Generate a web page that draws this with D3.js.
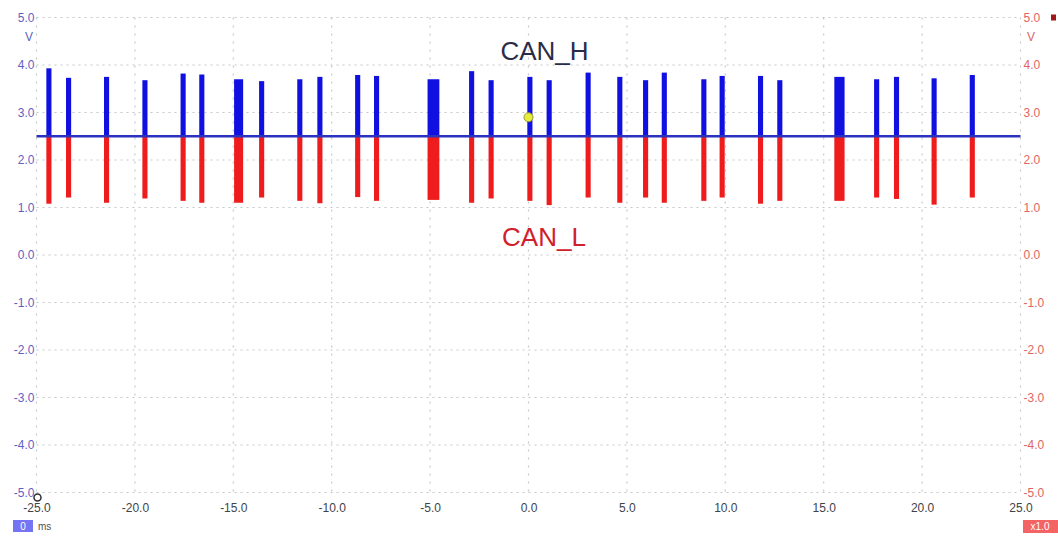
<!DOCTYPE html>
<html>
<head>
<meta charset="utf-8">
<script src="https://cdn.jsdelivr.net/npm/d3@7"></script>
<style>
  body { margin: 0; background: #fff; }
  text { font-family: "Liberation Sans", Arial, sans-serif; }
</style>
</head>
<body>
<div class="scope-figure"></div>
<script>
const w = 1058;
const h = 536;

// frame start (ms), frame length (ms), CAN_H level (V), CAN_L level (V)
const frameStart = [-24.50, -23.50, -21.57, -19.62, -17.68, -16.73, -14.96, -13.69, -11.75, -10.73,
                    -8.81, -7.85, -5.13, -3.02, -2.03, -0.06, 0.92, 2.90, 4.51, 5.82,
                    6.77, 8.78, 9.71, 11.66, 12.64, 15.54, 17.56, 18.57, 20.48, 22.42];
const frameLen   = [0.26, 0.26, 0.26, 0.26, 0.26, 0.26, 0.46, 0.26, 0.26, 0.26,
                    0.26, 0.26, 0.60, 0.26, 0.26, 0.26, 0.26, 0.26, 0.26, 0.26,
                    0.26, 0.26, 0.26, 0.26, 0.26, 0.52, 0.26, 0.26, 0.26, 0.26];
const canHigh    = [3.93, 3.73, 3.75, 3.68, 3.82, 3.80, 3.70, 3.66, 3.70, 3.75,
                    3.79, 3.77, 3.70, 3.87, 3.68, 3.75, 3.68, 3.84, 3.75, 3.68,
                    3.84, 3.70, 3.77, 3.77, 3.68, 3.75, 3.70, 3.75, 3.72, 3.79];
const canLow     = [1.08, 1.21, 1.10, 1.19, 1.14, 1.10, 1.10, 1.21, 1.14, 1.09,
                    1.22, 1.14, 1.16, 1.10, 1.19, 1.14, 1.05, 1.21, 1.10, 1.21,
                    1.10, 1.14, 1.21, 1.08, 1.14, 1.14, 1.21, 1.18, 1.06, 1.21];
const recessive = 2.5; // idle bus level

const timeTicks = [-25, -20, -15, -10, -5, 0, 5, 10, 15, 20, 25];
const voltTicks = [5, 4, 3, 2, 1, 0, -1, -2, -3, -4, -5];

let frames = frameStart.map((t, i) => ({
    t0: t,
    t1: t + frameLen[i],
    hi: canHigh[i],
    lo: canLow[i]
}));

let svg = d3.select("body").select(".scope-figure")
    .append("svg")
    .attr("width", w)
    .attr("height", h);

let x = d3.scaleLinear()
    .domain([-25, 25])
    .range([36.5, 1020.5]);

let y = d3.scaleLinear()
    .domain([-5, 5])
    .range([492.5, 17.5]);

let fmt = d => d3.format(".1f")(d).replace("−", "-");

// grid
svg.append("g")
    .selectAll("line")
    .data(voltTicks)
    .enter()
    .append("line")
    .attr("x1", x(-25))
    .attr("x2", x(25))
    .attr("y1", d => y(d))
    .attr("y2", d => y(d))
    .attr("stroke", "#c4c8cc")
    .attr("stroke-width", 1.2)
    .attr("stroke-dasharray", "2,4");

svg.append("g")
    .selectAll("line")
    .data(timeTicks)
    .enter()
    .append("line")
    .attr("x1", d => x(d))
    .attr("x2", d => x(d))
    .attr("y1", y(5))
    .attr("y2", y(-5))
    .attr("stroke", "#c4c8cc")
    .attr("stroke-width", 1.2)
    .attr("stroke-dasharray", "2,6");

// left axis (channel A, blue)
let left = svg.append("g")
    .attr("transform", "translate(" + (x(-25) - 1) + ",0)")
    .call(d3.axisLeft(y).tickValues(voltTicks).tickSize(0).tickPadding(1).tickFormat(fmt));
left.select(".domain").remove();
left.selectAll("text")
    .attr("fill", "#5f5fc4")
    .style("font-size", "12px");

svg.append("text")
    .attr("x", 29)
    .attr("y", y(5) + 23)
    .attr("text-anchor", "middle")
    .attr("fill", "#5f5fc4")
    .style("font-size", "12px")
    .text("V");

// right axis (channel B, red)
let right = svg.append("g")
    .attr("transform", "translate(" + (x(25) + 2) + ",0)")
    .call(d3.axisRight(y).tickValues(voltTicks).tickSize(0).tickPadding(1).tickFormat(fmt));
right.select(".domain").remove();
right.selectAll("text")
    .attr("fill", "#e06464")
    .style("font-size", "12px");

svg.append("text")
    .attr("x", 1031)
    .attr("y", y(5) + 23)
    .attr("text-anchor", "middle")
    .attr("fill", "#e06464")
    .style("font-size", "12px")
    .text("V");

svg.append("rect")
    .attr("x", 1051)
    .attr("y", y(5) - 3)
    .attr("width", 5)
    .attr("height", 6)
    .attr("fill", "#a01818");

// time axis
let bottom = svg.append("g")
    .attr("transform", "translate(0," + (y(-5) + 7) + ")")
    .call(d3.axisBottom(x).tickValues(timeTicks).tickSize(0).tickPadding(4).tickFormat(fmt));
bottom.select(".domain").remove();
bottom.selectAll("text")
    .attr("fill", "#404448")
    .style("font-size", "12px");

// CAN_L frames (dominant pulls down)
svg.append("g")
    .selectAll("rect")
    .data(frames)
    .enter()
    .append("rect")
    .attr("x", d => x(d.t0))
    .attr("width", d => x(d.t1) - x(d.t0))
    .attr("y", y(recessive))
    .attr("height", d => y(d.lo) - y(recessive))
    .attr("fill", "#ee1c1c");

// CAN_H frames
svg.append("g")
    .selectAll("rect")
    .data(frames)
    .enter()
    .append("rect")
    .attr("x", d => x(d.t0))
    .attr("width", d => x(d.t1) - x(d.t0))
    .attr("y", d => y(d.hi))
    .attr("height", d => y(recessive) - y(d.hi))
    .attr("fill", "#1010e0");

// idle level
svg.append("line")
    .attr("x1", x(-25))
    .attr("x2", x(25))
    .attr("y1", y(recessive))
    .attr("y2", y(recessive))
    .attr("stroke", "#2c32c0")
    .attr("stroke-width", 2.5);

// labels
svg.append("text")
    .attr("x", 544.5)
    .attr("y", 60)
    .attr("text-anchor", "middle")
    .attr("fill", "#2a2d48")
    .style("font-size", "26px")
    .text("CAN_H");

svg.append("text")
    .attr("x", 544)
    .attr("y", 246)
    .attr("text-anchor", "middle")
    .attr("fill", "#d0202c")
    .style("font-size", "26px")
    .text("CAN_L");

// trigger marker
svg.append("circle")
    .attr("cx", x(0))
    .attr("cy", y(2.9))
    .attr("r", 4.5)
    .attr("fill", "#e6ec3c")
    .attr("stroke", "#9a9a30")
    .attr("stroke-width", 1);

// ruler origin marker
svg.append("circle")
    .attr("cx", x(-25) + 1)
    .attr("cy", y(-5) + 5)
    .attr("r", 3.5)
    .attr("fill", "none")
    .attr("stroke", "#303030")
    .attr("stroke-width", 1.5);

// bottom badges
svg.append("rect")
    .attr("x", 13)
    .attr("y", 520)
    .attr("width", 20)
    .attr("height", 12)
    .attr("fill", "#7474f4");
svg.append("text")
    .attr("x", 23)
    .attr("y", 530)
    .attr("text-anchor", "middle")
    .attr("fill", "#fff")
    .style("font-size", "10px")
    .text("0");
svg.append("text")
    .attr("x", 38)
    .attr("y", 530)
    .attr("fill", "#505050")
    .style("font-size", "10px")
    .text("ms");

svg.append("rect")
    .attr("x", 1023)
    .attr("y", 520)
    .attr("width", 35)
    .attr("height", 13)
    .attr("fill", "#f46464");
svg.append("text")
    .attr("x", 1040)
    .attr("y", 530)
    .attr("text-anchor", "middle")
    .attr("fill", "#fff")
    .style("font-size", "10px")
    .text("x1.0");
</script>
</body>
</html>
